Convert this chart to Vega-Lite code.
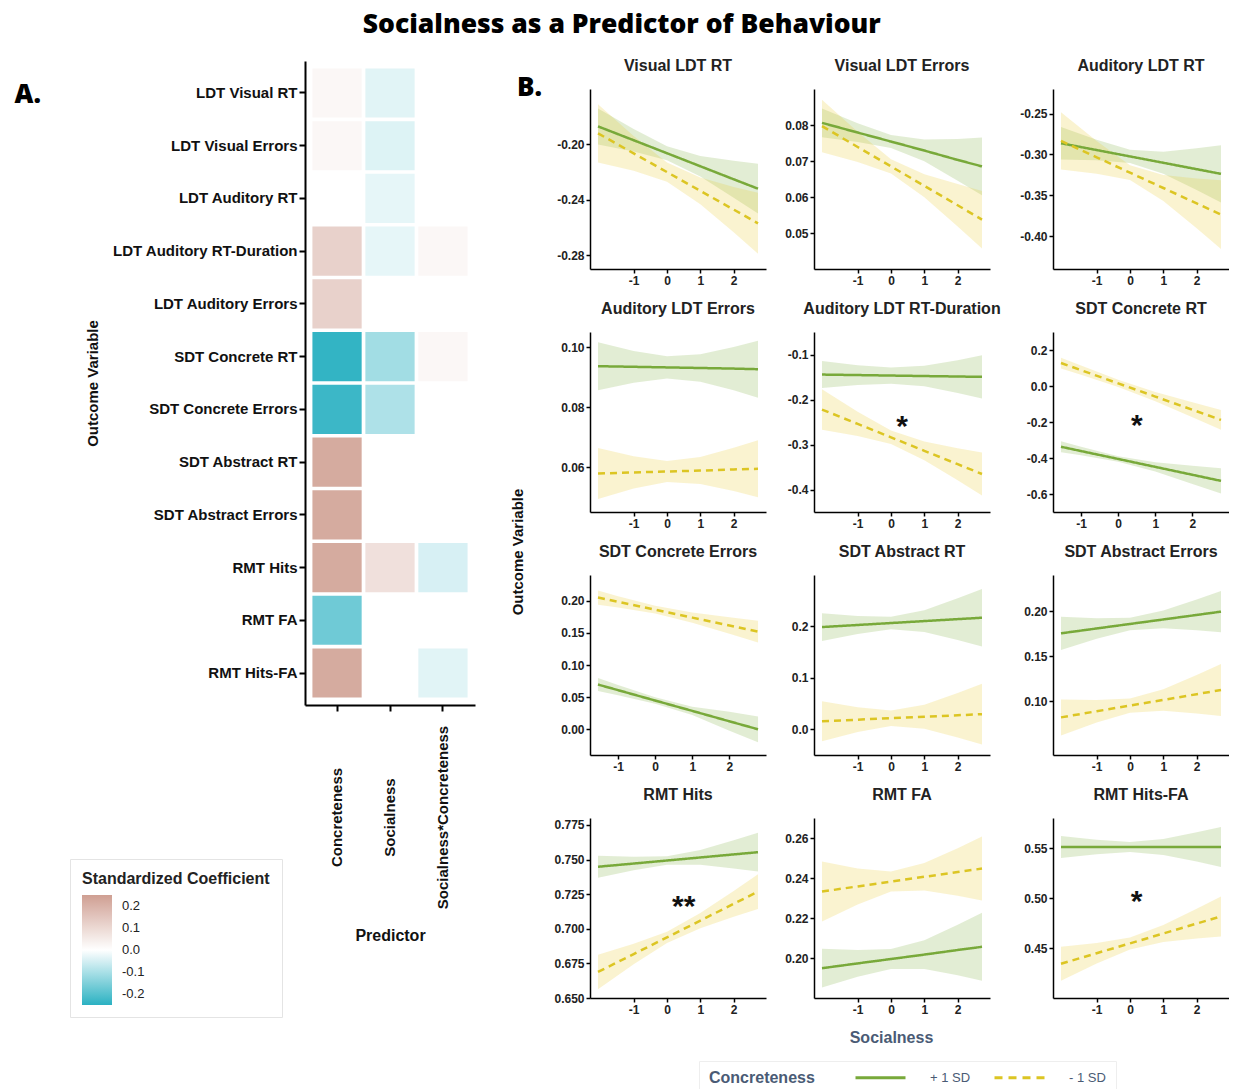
{
  "$schema": "https://vega.github.io/schema/vega-lite/v6.json",
  "padding": {"left": 14, "top": 11, "right": 0, "bottom": 0},
  "title": {"text": "Socialness as a Predictor of Behaviour", "font": "Open Sans", "fontSize": 26.5, "fontWeight": 800, "color": "#000", "anchor": "middle", "frame": "bounds", "offset": 20},
  "datasets": {
    "heat": [
      {"outcome": "LDT Visual RT", "predictor": "Concreteness", "coef": 0.02},
      {"outcome": "LDT Visual RT", "predictor": "Socialness", "coef": -0.035},
      {"outcome": "LDT Visual Errors", "predictor": "Concreteness", "coef": 0.02},
      {"outcome": "LDT Visual Errors", "predictor": "Socialness", "coef": -0.04},
      {"outcome": "LDT Auditory RT", "predictor": "Socialness", "coef": -0.03},
      {"outcome": "LDT Auditory RT-Duration", "predictor": "Concreteness", "coef": 0.12},
      {"outcome": "LDT Auditory RT-Duration", "predictor": "Socialness", "coef": -0.03},
      {"outcome": "LDT Auditory RT-Duration", "predictor": "Socialness*Concreteness", "coef": 0.02},
      {"outcome": "LDT Auditory Errors", "predictor": "Concreteness", "coef": 0.12},
      {"outcome": "SDT Concrete RT", "predictor": "Concreteness", "coef": -0.24},
      {"outcome": "SDT Concrete RT", "predictor": "Socialness", "coef": -0.11},
      {"outcome": "SDT Concrete RT", "predictor": "Socialness*Concreteness", "coef": 0.02},
      {"outcome": "SDT Concrete Errors", "predictor": "Concreteness", "coef": -0.23},
      {"outcome": "SDT Concrete Errors", "predictor": "Socialness", "coef": -0.095},
      {"outcome": "SDT Abstract RT", "predictor": "Concreteness", "coef": 0.22},
      {"outcome": "SDT Abstract Errors", "predictor": "Concreteness", "coef": 0.22},
      {"outcome": "RMT Hits", "predictor": "Concreteness", "coef": 0.22},
      {"outcome": "RMT Hits", "predictor": "Socialness", "coef": 0.08},
      {"outcome": "RMT Hits", "predictor": "Socialness*Concreteness", "coef": -0.047},
      {"outcome": "RMT FA", "predictor": "Concreteness", "coef": -0.17},
      {"outcome": "RMT Hits-FA", "predictor": "Concreteness", "coef": 0.22},
      {"outcome": "RMT Hits-FA", "predictor": "Socialness*Concreteness", "coef": -0.035}
    ],
    "stars": [
      {"p": "Auditory LDT RT-Duration", "x": 0.33, "y": -0.24, "s": "*"},
      {"p": "SDT Concrete RT", "x": 0.5, "y": -0.172, "s": "*"},
      {"p": "RMT Hits", "x": 0.5, "y": 0.7225, "s": "**"},
      {"p": "RMT Hits-FA", "x": 0.2, "y": 0.505, "s": "*"}
    ],
    "curves": [
      {"p": "Visual LDT RT", "g": "+ 1 SD", "x": -2.07, "y": -0.187, "lo": -0.2, "hi": -0.174},
      {"p": "Visual LDT RT", "g": "+ 1 SD", "x": -1, "y": -0.197, "lo": -0.2051, "hi": -0.1889},
      {"p": "Visual LDT RT", "g": "+ 1 SD", "x": 0, "y": -0.2064, "lo": -0.2114, "hi": -0.2014},
      {"p": "Visual LDT RT", "g": "+ 1 SD", "x": 1, "y": -0.2158, "lo": -0.2232, "hi": -0.2084},
      {"p": "Visual LDT RT", "g": "+ 1 SD", "x": 2, "y": -0.2252, "lo": -0.2385, "hi": -0.2119},
      {"p": "Visual LDT RT", "g": "+ 1 SD", "x": 2.73, "y": -0.232, "lo": -0.25, "hi": -0.214},
      {"p": "Visual LDT RT", "g": "- 1 SD", "x": -2.07, "y": -0.192, "lo": -0.213, "hi": -0.171},
      {"p": "Visual LDT RT", "g": "- 1 SD", "x": -1, "y": -0.2065, "lo": -0.2191, "hi": -0.1939},
      {"p": "Visual LDT RT", "g": "- 1 SD", "x": 0, "y": -0.22, "lo": -0.227, "hi": -0.213},
      {"p": "Visual LDT RT", "g": "- 1 SD", "x": 1, "y": -0.2336, "lo": -0.2432, "hi": -0.224},
      {"p": "Visual LDT RT", "g": "- 1 SD", "x": 2, "y": -0.2471, "lo": -0.2635, "hi": -0.2307},
      {"p": "Visual LDT RT", "g": "- 1 SD", "x": 2.73, "y": -0.257, "lo": -0.279, "hi": -0.235},

      {"p": "Visual LDT Errors", "g": "+ 1 SD", "x": -2.07, "y": 0.0806, "lo": 0.0766, "hi": 0.0846},
      {"p": "Visual LDT Errors", "g": "+ 1 SD", "x": -1, "y": 0.0779, "lo": 0.0753, "hi": 0.0805},
      {"p": "Visual LDT Errors", "g": "+ 1 SD", "x": 0, "y": 0.0754, "lo": 0.0736, "hi": 0.0772},
      {"p": "Visual LDT Errors", "g": "+ 1 SD", "x": 1, "y": 0.0729, "lo": 0.0699, "hi": 0.076},
      {"p": "Visual LDT Errors", "g": "+ 1 SD", "x": 2, "y": 0.0703, "lo": 0.0645, "hi": 0.0761},
      {"p": "Visual LDT Errors", "g": "+ 1 SD", "x": 2.73, "y": 0.0685, "lo": 0.0605, "hi": 0.0765},
      {"p": "Visual LDT Errors", "g": "- 1 SD", "x": -2.07, "y": 0.0797, "lo": 0.0724, "hi": 0.087},
      {"p": "Visual LDT Errors", "g": "- 1 SD", "x": -1, "y": 0.0739, "lo": 0.0697, "hi": 0.0781},
      {"p": "Visual LDT Errors", "g": "- 1 SD", "x": 0, "y": 0.0685, "lo": 0.0665, "hi": 0.0705},
      {"p": "Visual LDT Errors", "g": "- 1 SD", "x": 1, "y": 0.0631, "lo": 0.0599, "hi": 0.0663},
      {"p": "Visual LDT Errors", "g": "- 1 SD", "x": 2, "y": 0.0577, "lo": 0.0518, "hi": 0.0636},
      {"p": "Visual LDT Errors", "g": "- 1 SD", "x": 2.73, "y": 0.0537, "lo": 0.0457, "hi": 0.0617},

      {"p": "Auditory LDT RT", "g": "+ 1 SD", "x": -2.07, "y": -0.2863, "lo": -0.3063, "hi": -0.2663},
      {"p": "Auditory LDT RT", "g": "+ 1 SD", "x": -1, "y": -0.2946, "lo": -0.3072, "hi": -0.282},
      {"p": "Auditory LDT RT", "g": "+ 1 SD", "x": 0, "y": -0.3024, "lo": -0.3104, "hi": -0.2944},
      {"p": "Auditory LDT RT", "g": "+ 1 SD", "x": 1, "y": -0.3102, "lo": -0.3236, "hi": -0.2968},
      {"p": "Auditory LDT RT", "g": "+ 1 SD", "x": 2, "y": -0.318, "lo": -0.3435, "hi": -0.2925},
      {"p": "Auditory LDT RT", "g": "+ 1 SD", "x": 2.73, "y": -0.3237, "lo": -0.3587, "hi": -0.2887},
      {"p": "Auditory LDT RT", "g": "- 1 SD", "x": -2.07, "y": -0.2834, "lo": -0.3184, "hi": -0.2484},
      {"p": "Auditory LDT RT", "g": "- 1 SD", "x": -1, "y": -0.3035, "lo": -0.3235, "hi": -0.2835},
      {"p": "Auditory LDT RT", "g": "- 1 SD", "x": 0, "y": -0.3223, "lo": -0.3313, "hi": -0.3133},
      {"p": "Auditory LDT RT", "g": "- 1 SD", "x": 1, "y": -0.341, "lo": -0.3568, "hi": -0.3252},
      {"p": "Auditory LDT RT", "g": "- 1 SD", "x": 2, "y": -0.3598, "lo": -0.3903, "hi": -0.3293},
      {"p": "Auditory LDT RT", "g": "- 1 SD", "x": 2.73, "y": -0.3735, "lo": -0.4155, "hi": -0.3315},

      {"p": "Auditory LDT Errors", "g": "+ 1 SD", "x": -2.07, "y": 0.0936, "lo": 0.0856, "hi": 0.1016},
      {"p": "Auditory LDT Errors", "g": "+ 1 SD", "x": -1, "y": 0.0934, "lo": 0.0881, "hi": 0.0987},
      {"p": "Auditory LDT Errors", "g": "+ 1 SD", "x": 0, "y": 0.0932, "lo": 0.0895, "hi": 0.0969},
      {"p": "Auditory LDT Errors", "g": "+ 1 SD", "x": 1, "y": 0.093, "lo": 0.0884, "hi": 0.0976},
      {"p": "Auditory LDT Errors", "g": "+ 1 SD", "x": 2, "y": 0.0928, "lo": 0.0856, "hi": 0.1},
      {"p": "Auditory LDT Errors", "g": "+ 1 SD", "x": 2.73, "y": 0.0926, "lo": 0.0831, "hi": 0.1021},
      {"p": "Auditory LDT Errors", "g": "- 1 SD", "x": -2.07, "y": 0.0578, "lo": 0.0493, "hi": 0.0663},
      {"p": "Auditory LDT Errors", "g": "- 1 SD", "x": -1, "y": 0.0582, "lo": 0.0528, "hi": 0.0636},
      {"p": "Auditory LDT Errors", "g": "- 1 SD", "x": 0, "y": 0.0585, "lo": 0.055, "hi": 0.062},
      {"p": "Auditory LDT Errors", "g": "- 1 SD", "x": 1, "y": 0.0588, "lo": 0.0543, "hi": 0.0633},
      {"p": "Auditory LDT Errors", "g": "- 1 SD", "x": 2, "y": 0.0592, "lo": 0.052, "hi": 0.0664},
      {"p": "Auditory LDT Errors", "g": "- 1 SD", "x": 2.73, "y": 0.0594, "lo": 0.0499, "hi": 0.0689},

      {"p": "Auditory LDT RT-Duration", "g": "+ 1 SD", "x": -2.07, "y": -0.1446, "lo": -0.1746, "hi": -0.1146},
      {"p": "Auditory LDT RT-Duration", "g": "+ 1 SD", "x": -1, "y": -0.1457, "lo": -0.1677, "hi": -0.1237},
      {"p": "Auditory LDT RT-Duration", "g": "+ 1 SD", "x": 0, "y": -0.1468, "lo": -0.1648, "hi": -0.1288},
      {"p": "Auditory LDT RT-Duration", "g": "+ 1 SD", "x": 1, "y": -0.1479, "lo": -0.1708, "hi": -0.1251},
      {"p": "Auditory LDT RT-Duration", "g": "+ 1 SD", "x": 2, "y": -0.1489, "lo": -0.1853, "hi": -0.1125},
      {"p": "Auditory LDT RT-Duration", "g": "+ 1 SD", "x": 2.73, "y": -0.1497, "lo": -0.1977, "hi": -0.1017},
      {"p": "Auditory LDT RT-Duration", "g": "- 1 SD", "x": -2.07, "y": -0.2223, "lo": -0.2673, "hi": -0.1773},
      {"p": "Auditory LDT RT-Duration", "g": "- 1 SD", "x": -1, "y": -0.2542, "lo": -0.2812, "hi": -0.2272},
      {"p": "Auditory LDT RT-Duration", "g": "- 1 SD", "x": 0, "y": -0.2841, "lo": -0.2991, "hi": -0.2691},
      {"p": "Auditory LDT RT-Duration", "g": "- 1 SD", "x": 1, "y": -0.314, "lo": -0.3348, "hi": -0.2932},
      {"p": "Auditory LDT RT-Duration", "g": "- 1 SD", "x": 2, "y": -0.3438, "lo": -0.3795, "hi": -0.3081},
      {"p": "Auditory LDT RT-Duration", "g": "- 1 SD", "x": 2.73, "y": -0.3656, "lo": -0.4136, "hi": -0.3176},

      {"p": "SDT Concrete RT", "g": "+ 1 SD", "x": -1.54, "y": -0.3376, "lo": -0.3676, "hi": -0.3076},
      {"p": "SDT Concrete RT", "g": "+ 1 SD", "x": -1, "y": -0.3614, "lo": -0.3848, "hi": -0.338},
      {"p": "SDT Concrete RT", "g": "+ 1 SD", "x": 0, "y": -0.4053, "lo": -0.4203, "hi": -0.3903},
      {"p": "SDT Concrete RT", "g": "+ 1 SD", "x": 1, "y": -0.4493, "lo": -0.4756, "hi": -0.423},
      {"p": "SDT Concrete RT", "g": "+ 1 SD", "x": 2, "y": -0.4933, "lo": -0.5442, "hi": -0.4424},
      {"p": "SDT Concrete RT", "g": "+ 1 SD", "x": 2.77, "y": -0.5272, "lo": -0.5972, "hi": -0.4572},
      {"p": "SDT Concrete RT", "g": "- 1 SD", "x": -1.54, "y": 0.1276, "lo": 0.0976, "hi": 0.1576},
      {"p": "SDT Concrete RT", "g": "- 1 SD", "x": -1, "y": 0.088, "lo": 0.0627, "hi": 0.1133},
      {"p": "SDT Concrete RT", "g": "- 1 SD", "x": 0, "y": 0.0147, "lo": -0.0053, "hi": 0.0347},
      {"p": "SDT Concrete RT", "g": "- 1 SD", "x": 1, "y": -0.0587, "lo": -0.0844, "hi": -0.033},
      {"p": "SDT Concrete RT", "g": "- 1 SD", "x": 2, "y": -0.132, "lo": -0.1736, "hi": -0.0904},
      {"p": "SDT Concrete RT", "g": "- 1 SD", "x": 2.77, "y": -0.1885, "lo": -0.2435, "hi": -0.1335},

      {"p": "SDT Concrete Errors", "g": "+ 1 SD", "x": -1.54, "y": 0.0696, "lo": 0.0596, "hi": 0.0796},
      {"p": "SDT Concrete Errors", "g": "+ 1 SD", "x": -1, "y": 0.0609, "lo": 0.0531, "hi": 0.0687},
      {"p": "SDT Concrete Errors", "g": "+ 1 SD", "x": 0, "y": 0.0447, "lo": 0.0397, "hi": 0.0497},
      {"p": "SDT Concrete Errors", "g": "+ 1 SD", "x": 1, "y": 0.0286, "lo": 0.0221, "hi": 0.0351},
      {"p": "SDT Concrete Errors", "g": "+ 1 SD", "x": 2, "y": 0.0124, "lo": -0.0023, "hi": 0.0271},
      {"p": "SDT Concrete Errors", "g": "+ 1 SD", "x": 2.77, "y": 0.0, "lo": -0.02, "hi": 0.02},
      {"p": "SDT Concrete Errors", "g": "- 1 SD", "x": -1.54, "y": 0.2049, "lo": 0.1939, "hi": 0.2159},
      {"p": "SDT Concrete Errors", "g": "- 1 SD", "x": -1, "y": 0.1983, "lo": 0.1896, "hi": 0.2071},
      {"p": "SDT Concrete Errors", "g": "- 1 SD", "x": 0, "y": 0.186, "lo": 0.18, "hi": 0.192},
      {"p": "SDT Concrete Errors", "g": "- 1 SD", "x": 1, "y": 0.1737, "lo": 0.1659, "hi": 0.1815},
      {"p": "SDT Concrete Errors", "g": "- 1 SD", "x": 2, "y": 0.1615, "lo": 0.1487, "hi": 0.1743},
      {"p": "SDT Concrete Errors", "g": "- 1 SD", "x": 2.77, "y": 0.152, "lo": 0.135, "hi": 0.169},

      {"p": "SDT Abstract RT", "g": "+ 1 SD", "x": -2.07, "y": 0.1988, "lo": 0.1718, "hi": 0.2258},
      {"p": "SDT Abstract RT", "g": "+ 1 SD", "x": -1, "y": 0.2028, "lo": 0.1853, "hi": 0.2203},
      {"p": "SDT Abstract RT", "g": "+ 1 SD", "x": 0, "y": 0.2066, "lo": 0.1946, "hi": 0.2186},
      {"p": "SDT Abstract RT", "g": "+ 1 SD", "x": 1, "y": 0.2104, "lo": 0.1894, "hi": 0.2315},
      {"p": "SDT Abstract RT", "g": "+ 1 SD", "x": 2, "y": 0.2142, "lo": 0.1735, "hi": 0.2549},
      {"p": "SDT Abstract RT", "g": "+ 1 SD", "x": 2.73, "y": 0.2169, "lo": 0.1609, "hi": 0.2729},
      {"p": "SDT Abstract RT", "g": "- 1 SD", "x": -2.07, "y": 0.0156, "lo": -0.0234, "hi": 0.0546},
      {"p": "SDT Abstract RT", "g": "- 1 SD", "x": -1, "y": 0.0187, "lo": -0.0055, "hi": 0.0429},
      {"p": "SDT Abstract RT", "g": "- 1 SD", "x": 0, "y": 0.0216, "lo": 0.0066, "hi": 0.0366},
      {"p": "SDT Abstract RT", "g": "- 1 SD", "x": 1, "y": 0.0244, "lo": 0.0009, "hi": 0.0479},
      {"p": "SDT Abstract RT", "g": "- 1 SD", "x": 2, "y": 0.0273, "lo": -0.016, "hi": 0.0706},
      {"p": "SDT Abstract RT", "g": "- 1 SD", "x": 2.73, "y": 0.0294, "lo": -0.0296, "hi": 0.0884},

      {"p": "SDT Abstract Errors", "g": "+ 1 SD", "x": -2.07, "y": 0.1752, "lo": 0.1567, "hi": 0.1937},
      {"p": "SDT Abstract Errors", "g": "+ 1 SD", "x": -1, "y": 0.1806, "lo": 0.1692, "hi": 0.192},
      {"p": "SDT Abstract Errors", "g": "+ 1 SD", "x": 0, "y": 0.1856, "lo": 0.1786, "hi": 0.1926},
      {"p": "SDT Abstract Errors", "g": "+ 1 SD", "x": 1, "y": 0.1906, "lo": 0.1808, "hi": 0.2005},
      {"p": "SDT Abstract Errors", "g": "+ 1 SD", "x": 2, "y": 0.1956, "lo": 0.1785, "hi": 0.2127},
      {"p": "SDT Abstract Errors", "g": "+ 1 SD", "x": 2.73, "y": 0.1993, "lo": 0.1763, "hi": 0.2223},
      {"p": "SDT Abstract Errors", "g": "- 1 SD", "x": -2.07, "y": 0.0818, "lo": 0.0618, "hi": 0.1018},
      {"p": "SDT Abstract Errors", "g": "- 1 SD", "x": -1, "y": 0.0886, "lo": 0.076, "hi": 0.1012},
      {"p": "SDT Abstract Errors", "g": "- 1 SD", "x": 0, "y": 0.0949, "lo": 0.0869, "hi": 0.1029},
      {"p": "SDT Abstract Errors", "g": "- 1 SD", "x": 1, "y": 0.1012, "lo": 0.0893, "hi": 0.1131},
      {"p": "SDT Abstract Errors", "g": "- 1 SD", "x": 2, "y": 0.1076, "lo": 0.0862, "hi": 0.129},
      {"p": "SDT Abstract Errors", "g": "- 1 SD", "x": 2.73, "y": 0.1122, "lo": 0.0832, "hi": 0.1412},

      {"p": "RMT Hits", "g": "+ 1 SD", "x": -2.07, "y": 0.7448, "lo": 0.7368, "hi": 0.7528},
      {"p": "RMT Hits", "g": "+ 1 SD", "x": -1, "y": 0.7471, "lo": 0.7422, "hi": 0.752},
      {"p": "RMT Hits", "g": "+ 1 SD", "x": 0, "y": 0.7493, "lo": 0.7463, "hi": 0.7523},
      {"p": "RMT Hits", "g": "+ 1 SD", "x": 1, "y": 0.7515, "lo": 0.7462, "hi": 0.7568},
      {"p": "RMT Hits", "g": "+ 1 SD", "x": 2, "y": 0.7537, "lo": 0.7435, "hi": 0.7639},
      {"p": "RMT Hits", "g": "+ 1 SD", "x": 2.73, "y": 0.7553, "lo": 0.7413, "hi": 0.7693},
      {"p": "RMT Hits", "g": "- 1 SD", "x": -2.07, "y": 0.6688, "lo": 0.6563, "hi": 0.6813},
      {"p": "RMT Hits", "g": "- 1 SD", "x": -1, "y": 0.6817, "lo": 0.6743, "hi": 0.6891},
      {"p": "RMT Hits", "g": "- 1 SD", "x": 0, "y": 0.6938, "lo": 0.6898, "hi": 0.6978},
      {"p": "RMT Hits", "g": "- 1 SD", "x": 1, "y": 0.7059, "lo": 0.7004, "hi": 0.7114},
      {"p": "RMT Hits", "g": "- 1 SD", "x": 2, "y": 0.718, "lo": 0.7087, "hi": 0.7273},
      {"p": "RMT Hits", "g": "- 1 SD", "x": 2.73, "y": 0.7268, "lo": 0.7143, "hi": 0.7393},

      {"p": "RMT FA", "g": "+ 1 SD", "x": -2.07, "y": 0.1949, "lo": 0.1852, "hi": 0.2046},
      {"p": "RMT FA", "g": "+ 1 SD", "x": -1, "y": 0.1973, "lo": 0.1906, "hi": 0.204},
      {"p": "RMT FA", "g": "+ 1 SD", "x": 0, "y": 0.1995, "lo": 0.1945, "hi": 0.2045},
      {"p": "RMT FA", "g": "+ 1 SD", "x": 1, "y": 0.2017, "lo": 0.1945, "hi": 0.2089},
      {"p": "RMT FA", "g": "+ 1 SD", "x": 2, "y": 0.204, "lo": 0.1914, "hi": 0.2166},
      {"p": "RMT FA", "g": "+ 1 SD", "x": 2.73, "y": 0.2056, "lo": 0.1886, "hi": 0.2226},
      {"p": "RMT FA", "g": "- 1 SD", "x": -2.07, "y": 0.2332, "lo": 0.2182, "hi": 0.2482},
      {"p": "RMT FA", "g": "- 1 SD", "x": -1, "y": 0.2358, "lo": 0.2268, "hi": 0.2448},
      {"p": "RMT FA", "g": "- 1 SD", "x": 0, "y": 0.2382, "lo": 0.2332, "hi": 0.2432},
      {"p": "RMT FA", "g": "- 1 SD", "x": 1, "y": 0.2406, "lo": 0.2337, "hi": 0.2475},
      {"p": "RMT FA", "g": "- 1 SD", "x": 2, "y": 0.243, "lo": 0.2311, "hi": 0.2549},
      {"p": "RMT FA", "g": "- 1 SD", "x": 2.73, "y": 0.2447, "lo": 0.2287, "hi": 0.2607},

      {"p": "RMT Hits-FA", "g": "+ 1 SD", "x": -2.07, "y": 0.551, "lo": 0.54, "hi": 0.562},
      {"p": "RMT Hits-FA", "g": "+ 1 SD", "x": -1, "y": 0.551, "lo": 0.5438, "hi": 0.5582},
      {"p": "RMT Hits-FA", "g": "+ 1 SD", "x": 0, "y": 0.551, "lo": 0.546, "hi": 0.556},
      {"p": "RMT Hits-FA", "g": "+ 1 SD", "x": 1, "y": 0.551, "lo": 0.5431, "hi": 0.5589},
      {"p": "RMT Hits-FA", "g": "+ 1 SD", "x": 2, "y": 0.551, "lo": 0.5364, "hi": 0.5657},
      {"p": "RMT Hits-FA", "g": "+ 1 SD", "x": 2.73, "y": 0.551, "lo": 0.531, "hi": 0.571},
      {"p": "RMT Hits-FA", "g": "- 1 SD", "x": -2.07, "y": 0.4342, "lo": 0.4172, "hi": 0.4512},
      {"p": "RMT Hits-FA", "g": "- 1 SD", "x": -1, "y": 0.4448, "lo": 0.4345, "hi": 0.4551},
      {"p": "RMT Hits-FA", "g": "- 1 SD", "x": 0, "y": 0.4546, "lo": 0.4486, "hi": 0.4606},
      {"p": "RMT Hits-FA", "g": "- 1 SD", "x": 1, "y": 0.4645, "lo": 0.456, "hi": 0.473},
      {"p": "RMT Hits-FA", "g": "- 1 SD", "x": 2, "y": 0.4744, "lo": 0.4596, "hi": 0.4892},
      {"p": "RMT Hits-FA", "g": "- 1 SD", "x": 2.73, "y": 0.4816, "lo": 0.4616, "hi": 0.5016}
    ]
  },
  "hconcat": [
    {
      "title": {"text": "A.", "font": "Open Sans", "fontSize": 26, "fontWeight": 800, "color": "#000", "anchor": "start", "frame": "bounds", "dx": -55, "dy": 62},
      "data": {"name": "heat"},
      "width": 170,
      "height": 644,
      "mark": {"type": "rect"},
      "encoding": {
        "x": {"field": "predictor", "type": "nominal", "sort": ["Concreteness", "Socialness", "Socialness*Concreteness"],
          "scale": {"domain": ["Concreteness", "Socialness", "Socialness*Concreteness"], "paddingInner": 0.07, "paddingOuter": 0.14},
          "title": "Predictor",
          "axis": {"labelAngle": 270, "labelAlign": "center", "labelBaseline": "middle", "labelPadding": 106, "labelLimit": 400, "labelFont": "Liberation Sans", "labelFontSize": 15, "labelColor": "#111", "tickSize": 6, "tickWidth": 2, "domainWidth": 2, "titleFont": "Liberation Sans", "titleFontSize": 16, "titleFontWeight": "bold", "titleColor": "#111", "titlePadding": 22}},
        "y": {"field": "outcome", "type": "nominal",
          "sort": ["LDT Visual RT", "LDT Visual Errors", "LDT Auditory RT", "LDT Auditory RT-Duration", "LDT Auditory Errors", "SDT Concrete RT", "SDT Concrete Errors", "SDT Abstract RT", "SDT Abstract Errors", "RMT Hits", "RMT FA", "RMT Hits-FA"],
          "scale": {"paddingInner": 0.07, "paddingOuter": 0.14},
          "title": "Outcome Variable",
          "axis": {"labelFont": "Liberation Sans", "labelFontSize": 15, "labelLimit": 400, "labelColor": "#111", "labelPadding": 2, "tickSize": 6, "tickWidth": 2, "domainWidth": 2, "titleFont": "Liberation Sans", "titleFontSize": 15, "titleFontWeight": "bold", "titleColor": "#111", "titlePadding": 12}},
        "color": {"field": "coef", "type": "quantitative",
          "scale": {"domain": [-0.25, 0, 0.25], "range": ["#2bb1c2", "#ffffff", "#cf9f92"], "interpolate": "rgb"},
          "legend": {"title": "Standardized Coefficient", "orient": "none", "legendX": -235, "legendY": 798, "direction": "vertical",
            "values": [0.2, 0.1, 0, -0.1, -0.2], "format": ".1f", "gradientLength": 110, "gradientThickness": 30,
            "titleFont": "Liberation Sans", "titleFontSize": 16, "titleFontWeight": "bold", "titleColor": "#222", "titlePadding": 8, "titleLimit": 300,
            "labelFont": "Liberation Sans", "labelFontSize": 13, "labelColor": "#222", "labelOffset": 10,
            "padding": 12, "strokeColor": "#e4e4e4", "gradientStrokeWidth": 0}}
      }
    },
    {
      "title": {"text": "B.", "font": "Open Sans", "fontSize": 26, "fontWeight": 800, "color": "#000", "anchor": "start", "frame": "bounds", "dx": 6, "dy": 58},
      "data": {"name": "curves"},
      "spacing": -4,
      "vconcat": [
        {"width": 176, "height": 1, "data": {"values": []}, "mark": {"type": "point"}},
        {
          "title": {"text": "Outcome Variable", "orient": "left", "anchor": "middle", "frame": "bounds", "fontSize": 15, "fontWeight": "bold", "color": "#111", "offset": 28},
          "vconcat": [
            {
              "title": {"text": "Socialness", "orient": "bottom", "anchor": "middle", "frame": "bounds", "fontSize": 16, "fontWeight": "bold", "color": "#4a5b75", "offset": 15},
              "columns": 3,
              "spacing": {"row": 15, "column": 18},
              "concat": [
                {"title": "Visual LDT RT", "width": 176, "height": 180,
                 "transform": [{"filter": "datum.p === 'Visual LDT RT'"}],
                 "encoding": {"x": {"field": "x", "type": "quantitative", "scale": {"domain": [-2.31, 2.97]}, "axis": {"values": [-1, 0, 1, 2]}, "title": null}},
                 "layer": [
                   {"mark": {"type": "area", "fillOpacity": 0.22}, "encoding": {"y": {"field": "lo", "type": "quantitative", "scale": {"domain": [-0.2853, -0.1653]}, "axis": {"values": [-0.28, -0.24, -0.2], "format": ".2f"}, "title": null}, "y2": {"field": "hi"}, "fill": {"field": "g", "type": "nominal", "scale": {"domain": ["+ 1 SD", "- 1 SD"], "range": ["#7cac3a", "#e6c82a"]}, "legend": null}}},
                   {"mark": {"type": "line", "strokeWidth": 2.5}, "encoding": {"y": {"field": "y", "type": "quantitative"},
                     "color": {"field": "g", "type": "nominal", "scale": {"domain": ["+ 1 SD", "- 1 SD"], "range": ["#78a93a", "#dcc523"]}, "title": "Concreteness",
                       "legend": {"orient": "none", "legendX": 109, "legendY": 1000, "direction": "horizontal", "titleOrient": "left", "symbolType": "M-5,0H5", "symbolSize": 100, "symbolStrokeWidth": 3, "labelFontSize": 13, "labelColor": "#4a5b75", "titleFontSize": 16, "titleColor": "#4a5b75", "titleFontWeight": "bold", "strokeColor": "#eeeeee", "padding": 10, "columnPadding": 17, "labelOffset": 43, "titlePadding": 59,
                         "encode": {"symbols": {"update": {"strokeDash": {"signal": "datum.value === '- 1 SD' ? [8, 6] : [1, 0]"}}}}}},
                     "strokeDash": {"field": "g", "type": "nominal", "scale": {"domain": ["+ 1 SD", "- 1 SD"], "range": [[1, 0], [7, 5]]}, "legend": null}}}
                 ]},
                {"title": "Visual LDT Errors", "width": 176, "height": 180,
                 "transform": [{"filter": "datum.p === 'Visual LDT Errors'"}],
                 "encoding": {"x": {"field": "x", "type": "quantitative", "scale": {"domain": [-2.31, 2.97]}, "axis": {"values": [-1, 0, 1, 2]}, "title": null}},
                 "layer": [
                   {"mark": {"type": "area", "fillOpacity": 0.22}, "encoding": {"y": {"field": "lo", "type": "quantitative", "scale": {"domain": [0.0436, 0.0897]}, "axis": {"values": [0.05, 0.06, 0.07, 0.08], "format": ".2f"}, "title": null}, "y2": {"field": "hi"}, "fill": {"field": "g", "type": "nominal", "legend": null}}},
                   {"mark": {"type": "line", "strokeWidth": 2.5}, "encoding": {"y": {"field": "y", "type": "quantitative"}, "color": {"field": "g", "type": "nominal", "title": "Concreteness"}, "strokeDash": {"field": "g", "type": "nominal", "legend": null}}}
                 ]},
                {"title": "Auditory LDT RT", "width": 176, "height": 180,
                 "transform": [{"filter": "datum.p === 'Auditory LDT RT'"}],
                 "encoding": {"x": {"field": "x", "type": "quantitative", "scale": {"domain": [-2.31, 2.97]}, "axis": {"values": [-1, 0, 1, 2]}, "title": null}},
                 "layer": [
                   {"mark": {"type": "area", "fillOpacity": 0.22}, "encoding": {"y": {"field": "lo", "type": "quantitative", "scale": {"domain": [-0.426, -0.232]}, "axis": {"values": [-0.4, -0.35, -0.3, -0.25], "format": ".2f"}, "title": null}, "y2": {"field": "hi"}, "fill": {"field": "g", "type": "nominal", "legend": null}}},
                   {"mark": {"type": "line", "strokeWidth": 2.5}, "encoding": {"y": {"field": "y", "type": "quantitative"}, "color": {"field": "g", "type": "nominal", "title": "Concreteness"}, "strokeDash": {"field": "g", "type": "nominal", "legend": null}}}
                 ]},
                {"title": "Auditory LDT Errors", "width": 176, "height": 180,
                 "transform": [{"filter": "datum.p === 'Auditory LDT Errors'"}],
                 "encoding": {"x": {"field": "x", "type": "quantitative", "scale": {"domain": [-2.31, 2.97]}, "axis": {"values": [-1, 0, 1, 2]}, "title": null}},
                 "layer": [
                   {"mark": {"type": "area", "fillOpacity": 0.22}, "encoding": {"y": {"field": "lo", "type": "quantitative", "scale": {"domain": [0.0467, 0.1047]}, "axis": {"values": [0.06, 0.08, 0.1], "format": ".2f"}, "title": null}, "y2": {"field": "hi"}, "fill": {"field": "g", "type": "nominal", "legend": null}}},
                   {"mark": {"type": "line", "strokeWidth": 2.5}, "encoding": {"y": {"field": "y", "type": "quantitative"}, "color": {"field": "g", "type": "nominal", "title": "Concreteness"}, "strokeDash": {"field": "g", "type": "nominal", "legend": null}}}
                 ]},
                {"title": "Auditory LDT RT-Duration", "width": 176, "height": 180,
                 "transform": [{"filter": "datum.p === 'Auditory LDT RT-Duration'"}],
                 "encoding": {"x": {"field": "x", "type": "quantitative", "scale": {"domain": [-2.31, 2.97]}, "axis": {"values": [-1, 0, 1, 2]}, "title": null}},
                 "layer": [
                   {"mark": {"type": "area", "fillOpacity": 0.22}, "encoding": {"y": {"field": "lo", "type": "quantitative", "scale": {"domain": [-0.4292, -0.0861]}, "axis": {"values": [-0.4, -0.3, -0.2, -0.1], "format": ".1f"}, "title": null}, "y2": {"field": "hi"}, "fill": {"field": "g", "type": "nominal", "legend": null}}},
                   {"mark": {"type": "line", "strokeWidth": 2.5}, "encoding": {"y": {"field": "y", "type": "quantitative"}, "color": {"field": "g", "type": "nominal", "title": "Concreteness"}, "strokeDash": {"field": "g", "type": "nominal", "legend": null}}},
                   {"data": {"name": "stars"}, "transform": [{"filter": "datum.p === 'Auditory LDT RT-Duration'"}], "mark": {"type": "text", "fontSize": 30, "fontWeight": "bold", "dy": 9, "color": "#111"}, "encoding": {"y": {"field": "y", "type": "quantitative"}, "text": {"field": "s"}}}
                 ]},
                {"title": "SDT Concrete RT", "width": 176, "height": 180,
                 "transform": [{"filter": "datum.p === 'SDT Concrete RT'"}],
                 "encoding": {"x": {"field": "x", "type": "quantitative", "scale": {"domain": [-1.755, 2.985]}, "axis": {"values": [-1, 0, 1, 2]}, "title": null}},
                 "layer": [
                   {"mark": {"type": "area", "fillOpacity": 0.22}, "encoding": {"y": {"field": "lo", "type": "quantitative", "scale": {"domain": [-0.635, 0.212]}, "axis": {"values": [-0.6, -0.4, -0.2, 0, 0.2], "format": ".1f"}, "title": null}, "y2": {"field": "hi"}, "fill": {"field": "g", "type": "nominal", "legend": null}}},
                   {"mark": {"type": "line", "strokeWidth": 2.5}, "encoding": {"y": {"field": "y", "type": "quantitative"}, "color": {"field": "g", "type": "nominal", "title": "Concreteness"}, "strokeDash": {"field": "g", "type": "nominal", "legend": null}}},
                   {"data": {"name": "stars"}, "transform": [{"filter": "datum.p === 'SDT Concrete RT'"}], "mark": {"type": "text", "fontSize": 30, "fontWeight": "bold", "dy": 9, "color": "#111"}, "encoding": {"y": {"field": "y", "type": "quantitative"}, "text": {"field": "s"}}}
                 ]},
                {"title": "SDT Concrete Errors", "width": 176, "height": 180,
                 "transform": [{"filter": "datum.p === 'SDT Concrete Errors'"}],
                 "encoding": {"x": {"field": "x", "type": "quantitative", "scale": {"domain": [-1.755, 2.985]}, "axis": {"values": [-1, 0, 1, 2]}, "title": null}},
                 "layer": [
                   {"mark": {"type": "area", "fillOpacity": 0.22}, "encoding": {"y": {"field": "lo", "type": "quantitative", "scale": {"domain": [-0.032, 0.2312]}, "axis": {"values": [0, 0.05, 0.1, 0.15, 0.2], "format": ".2f"}, "title": null}, "y2": {"field": "hi"}, "fill": {"field": "g", "type": "nominal", "legend": null}}},
                   {"mark": {"type": "line", "strokeWidth": 2.5}, "encoding": {"y": {"field": "y", "type": "quantitative"}, "color": {"field": "g", "type": "nominal", "title": "Concreteness"}, "strokeDash": {"field": "g", "type": "nominal", "legend": null}}}
                 ]},
                {"title": "SDT Abstract RT", "width": 176, "height": 180,
                 "transform": [{"filter": "datum.p === 'SDT Abstract RT'"}],
                 "encoding": {"x": {"field": "x", "type": "quantitative", "scale": {"domain": [-2.31, 2.97]}, "axis": {"values": [-1, 0, 1, 2]}, "title": null}},
                 "layer": [
                   {"mark": {"type": "area", "fillOpacity": 0.22}, "encoding": {"y": {"field": "lo", "type": "quantitative", "scale": {"domain": [-0.0455, 0.288]}, "axis": {"values": [0, 0.1, 0.2], "format": ".1f"}, "title": null}, "y2": {"field": "hi"}, "fill": {"field": "g", "type": "nominal", "legend": null}}},
                   {"mark": {"type": "line", "strokeWidth": 2.5}, "encoding": {"y": {"field": "y", "type": "quantitative"}, "color": {"field": "g", "type": "nominal", "title": "Concreteness"}, "strokeDash": {"field": "g", "type": "nominal", "legend": null}}}
                 ]},
                {"title": "SDT Abstract Errors", "width": 176, "height": 180,
                 "transform": [{"filter": "datum.p === 'SDT Abstract Errors'"}],
                 "encoding": {"x": {"field": "x", "type": "quantitative", "scale": {"domain": [-2.31, 2.97]}, "axis": {"values": [-1, 0, 1, 2]}, "title": null}},
                 "layer": [
                   {"mark": {"type": "area", "fillOpacity": 0.22}, "encoding": {"y": {"field": "lo", "type": "quantitative", "scale": {"domain": [0.054, 0.232]}, "axis": {"values": [0.1, 0.15, 0.2], "format": ".2f"}, "title": null}, "y2": {"field": "hi"}, "fill": {"field": "g", "type": "nominal", "legend": null}}},
                   {"mark": {"type": "line", "strokeWidth": 2.5}, "encoding": {"y": {"field": "y", "type": "quantitative"}, "color": {"field": "g", "type": "nominal", "title": "Concreteness"}, "strokeDash": {"field": "g", "type": "nominal", "legend": null}}}
                 ]},
                {"title": "RMT Hits", "width": 176, "height": 180,
                 "transform": [{"filter": "datum.p === 'RMT Hits'"}],
                 "encoding": {"x": {"field": "x", "type": "quantitative", "scale": {"domain": [-2.31, 2.97]}, "axis": {"values": [-1, 0, 1, 2]}, "title": null}},
                 "layer": [
                   {"mark": {"type": "area", "fillOpacity": 0.22}, "encoding": {"y": {"field": "lo", "type": "quantitative", "scale": {"domain": [0.6505, 0.7755]}, "axis": {"values": [0.65, 0.675, 0.7, 0.725, 0.75, 0.775], "format": ".3f", "labelOverlap": false}, "title": null}, "y2": {"field": "hi"}, "fill": {"field": "g", "type": "nominal", "legend": null}}},
                   {"mark": {"type": "line", "strokeWidth": 2.5}, "encoding": {"y": {"field": "y", "type": "quantitative", "axis": {"values": [0.65, 0.675, 0.7, 0.725, 0.75, 0.775], "format": ".3f", "labelOverlap": false}, "title": null}, "color": {"field": "g", "type": "nominal", "title": "Concreteness"}, "strokeDash": {"field": "g", "type": "nominal", "legend": null}}},
                   {"data": {"name": "stars"}, "transform": [{"filter": "datum.p === 'RMT Hits'"}], "mark": {"type": "text", "fontSize": 30, "fontWeight": "bold", "dy": 9, "color": "#111"}, "encoding": {"y": {"field": "y", "type": "quantitative", "axis": {"values": [0.65, 0.675, 0.7, 0.725, 0.75, 0.775], "format": ".3f", "labelOverlap": false}, "title": null}, "text": {"field": "s"}}}
                 ]},
                {"title": "RMT FA", "width": 176, "height": 180,
                 "transform": [{"filter": "datum.p === 'RMT FA'"}],
                 "encoding": {"x": {"field": "x", "type": "quantitative", "scale": {"domain": [-2.31, 2.97]}, "axis": {"values": [-1, 0, 1, 2]}, "title": null}},
                 "layer": [
                   {"mark": {"type": "area", "fillOpacity": 0.22}, "encoding": {"y": {"field": "lo", "type": "quantitative", "scale": {"domain": [0.1814, 0.2645]}, "axis": {"values": [0.2, 0.22, 0.24, 0.26], "format": ".2f"}, "title": null}, "y2": {"field": "hi"}, "fill": {"field": "g", "type": "nominal", "legend": null}}},
                   {"mark": {"type": "line", "strokeWidth": 2.5}, "encoding": {"y": {"field": "y", "type": "quantitative"}, "color": {"field": "g", "type": "nominal", "title": "Concreteness"}, "strokeDash": {"field": "g", "type": "nominal", "legend": null}}}
                 ]},
                {"title": "RMT Hits-FA", "width": 176, "height": 180,
                 "transform": [{"filter": "datum.p === 'RMT Hits-FA'"}],
                 "encoding": {"x": {"field": "x", "type": "quantitative", "scale": {"domain": [-2.31, 2.97]}, "axis": {"values": [-1, 0, 1, 2]}, "title": null}},
                 "layer": [
                   {"mark": {"type": "area", "fillOpacity": 0.22}, "encoding": {"y": {"field": "lo", "type": "quantitative", "scale": {"domain": [0.4095, 0.5787]}, "axis": {"values": [0.45, 0.5, 0.55], "format": ".2f"}, "title": null}, "y2": {"field": "hi"}, "fill": {"field": "g", "type": "nominal", "legend": null}}},
                   {"mark": {"type": "line", "strokeWidth": 2.5}, "encoding": {"y": {"field": "y", "type": "quantitative"}, "color": {"field": "g", "type": "nominal", "title": "Concreteness"}, "strokeDash": {"field": "g", "type": "nominal", "legend": null}}},
                   {"data": {"name": "stars"}, "transform": [{"filter": "datum.p === 'RMT Hits-FA'"}], "mark": {"type": "text", "fontSize": 30, "fontWeight": "bold", "dy": 9, "color": "#111"}, "encoding": {"y": {"field": "y", "type": "quantitative"}, "text": {"field": "s"}}}
                 ]}
              ]
            }
          ]
        }
      ]
    }
  ],
  "spacing": 35,
  "resolve": {"scale": {"color": "independent"}, "legend": {"color": "independent"}},
  "config": {
    "view": {"stroke": null},
    "font": "Liberation Sans",
    "locale": {"number": {"decimal": ".", "thousands": ",", "grouping": [3], "currency": ["$", ""], "minus": "-"}},
    "axis": {"grid": false, "domainColor": "#000", "tickColor": "#000", "labelColor": "#222", "labelFontWeight": "bold", "labelFont": "Liberation Sans Narrow, Liberation Sans", "labelFontSize": 12, "tickSize": 4, "domainWidth": 1.5, "tickWidth": 1.5, "labelPadding": 2, "labelOverlap": false},
    "title": {"fontSize": 16, "fontWeight": "bold", "color": "#222", "frame": "group", "offset": 15, "font": "Liberation Sans"}
  }
}
